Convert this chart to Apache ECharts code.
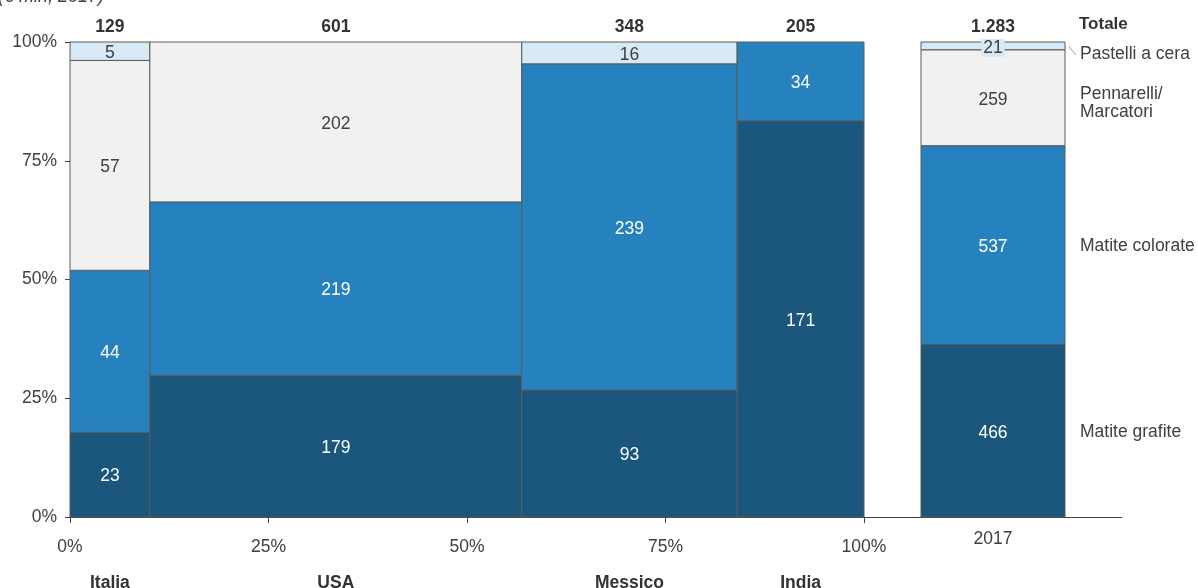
<!DOCTYPE html>
<html>
<head>
<meta charset="utf-8">
<script src="https://cdn.jsdelivr.net/npm/echarts@6/dist/echarts.min.js"></script>
<style>
  html, body { margin: 0; padding: 0; background: #ffffff; }
  #chart { width: 1198px; height: 588px; }
</style>
</head>
<body>
<div id="chart"></div>
<script>
// Mercato dei prodotti da scrittura e colorazione per paese (€ mln, 2017)
const markets = ['Italia', 'USA', 'Messico', 'India'];
const marketTotals = [129, 601, 348, 205];

const segmentNames = ['Matite grafite', 'Matite colorate', 'Pennarelli/\nMarcatori', 'Pastelli a cera'];
const grafite    = [23, 179, 93, 171];
const colorate   = [44, 219, 239, 34];
const pennarelli = [57, 202, 0, 0];
const pastelli   = [5, 0, 16, 0];

const yearLabel = '2017';
const yearValues = [466, 537, 259, 21];   // grafite, colorate, pennarelli, pastelli

const pctTicks = [0, 25, 50, 75, 100];
const totalHeader = 'Totale';
const unitNote = '(€ mln, 2017)';

// ---- styling ----
const FILL = ['#1b567d', '#2682be', '#f1f1f1', '#d8e9f6'];
const INK  = ['#ffffff', '#ffffff', '#404040', '#404040'];
const NAME_DY = [1, 1, 5, 8];            // vertical nudge of the segment names
const EDGE = '#5a5a5a';
const AXIS = '#404040';
const FONT = '"Liberation Sans", Arial, sans-serif';
const FS = 17.5;

const fmtIt = n => String(n).replace(/\B(?=(\d{3})+(?!\d))/g, '.');

// ---- marimekko geometry in data units (x: share of total market, y: share within market) ----
const series = [grafite, colorate, pennarelli, pastelli];
const grand = marketTotals.reduce((a, b) => a + b, 0);
const mekko = [];
const columns = [];
let cx = 0;
markets.forEach((m, i) => {
  const w = marketTotals[i] / grand * 100;
  const colSum = series.reduce((s, arr) => s + arr[i], 0);
  let cy = 0;
  series.forEach((arr, k) => {
    const v = arr[i];
    if (!v) return;
    const h = v / colSum * 100;
    mekko.push([cx, cx + w, cy, cy + h, v, k]);
    cy += h;
  });
  columns.push([cx, cx + w, marketTotals[i], i]);
  cx += w;
});

// ---- single stacked bar for the aggregate year ----
const yearSum = yearValues.reduce((a, b) => a + b, 0);
const yearStack = [];
let acc = 0;
yearValues.forEach((v, k) => {
  const h = v / yearSum * 100;
  yearStack.push([0, acc, acc + h, v, k]);
  acc += h;
});

function renderMekko(params, api) {
  const x0 = api.value(0), x1 = api.value(1), y0 = api.value(2), y1 = api.value(3);
  const v = api.value(4), k = api.value(5);
  const p0 = api.coord([x0, y1]);
  const p1 = api.coord([x1, y0]);
  return {
    type: 'group',
    children: [
      { type: 'rect',
        shape: { x: p0[0], y: p0[1], width: p1[0] - p0[0], height: p1[1] - p0[1] },
        style: { fill: FILL[k], stroke: EDGE, lineWidth: 1 } },
      { type: 'text',
        x: (p0[0] + p1[0]) / 2, y: (p0[1] + p1[1]) / 2 + 2,
        style: { text: String(v), fill: INK[k], font: FS + 'px ' + FONT,
                 align: 'center', verticalAlign: 'middle' } }
    ]
  };
}

function renderColumns(params, api) {
  const x0 = api.value(0), x1 = api.value(1), tot = api.value(2), i = api.value(3);
  const top = api.coord([(x0 + x1) / 2, 100]);
  const bot = api.coord([(x0 + x1) / 2, 0]);
  return {
    type: 'group',
    children: [
      { type: 'text', x: top[0], y: top[1] - 15,
        style: { text: fmtIt(tot), fill: '#333333', font: 'bold ' + FS + 'px ' + FONT,
                 align: 'center', verticalAlign: 'middle' } },
      { type: 'text', x: bot[0], y: bot[1] + 66,
        style: { text: markets[i], fill: '#333333', font: 'bold ' + FS + 'px ' + FONT,
                 align: 'center', verticalAlign: 'middle' } }
    ]
  };
}

const BAR_W = 144;
function renderYear(params, api) {
  const y0 = api.value(1), y1 = api.value(2), v = api.value(3), k = api.value(4);
  const pTop = api.coord([0, y1]);
  const pBot = api.coord([0, y0]);
  const left = pTop[0] - BAR_W / 2;
  const midY = (pTop[1] + pBot[1]) / 2;
  const children = [
    { type: 'rect',
      shape: { x: left, y: pTop[1], width: BAR_W, height: pBot[1] - pTop[1] },
      style: { fill: FILL[k], stroke: EDGE, lineWidth: 1 } }
  ];
  const thin = (pBot[1] - pTop[1]) < 16;
  children.push({
    type: 'text', x: pTop[0], y: midY + 2,
    z2: 5,
    style: { text: String(v), fill: INK[k], font: FS + 'px ' + FONT,
             align: 'center', verticalAlign: 'middle',
             backgroundColor: thin ? FILL[k] : null, padding: thin ? [0, 2] : 0 }
  });
  const lx = left + BAR_W + 15;
  if (thin) {
    children.push({ type: 'line',
      shape: { x1: left + BAR_W + 4, y1: midY + 1, x2: left + BAR_W + 11, y2: midY + 9 },
      style: { stroke: '#9a9a9a', lineWidth: 1 } });
  }
  children.push({ type: 'text', x: lx, y: midY + NAME_DY[k],
    style: { text: segmentNames[k], fill: '#404040', font: FS + 'px ' + FONT,
             align: 'left', verticalAlign: 'middle', lineHeight: 18 } });
  if (k === yearValues.length - 1) {
    children.push({ type: 'text', x: pTop[0], y: pTop[1] - 15,
      style: { text: fmtIt(yearSum), fill: '#333333', font: 'bold ' + FS + 'px ' + FONT,
               align: 'center', verticalAlign: 'middle' } });
    children.push({ type: 'text', x: lx - 1, y: pTop[1] - 18,
      style: { text: totalHeader, fill: '#333333', font: 'bold 17px ' + FONT,
               align: 'left', verticalAlign: 'middle' } });
  }
  return { type: 'group', children };
}

const chart = echarts.init(document.getElementById('chart'), null, { renderer: 'canvas' });
chart.setOption({
  animation: false,
  backgroundColor: '#ffffff',
  graphic: [
    { type: 'text', right: 1094, top: -12,
      style: { text: unitNote, fill: '#404040', font: 'italic 18px ' + FONT } }
  ],
  grid: [
    { left: 70, right: 334, top: 42, bottom: 71 },
    { left: 864, right: 76, top: 42, bottom: 71 }
  ],
  xAxis: [
    { type: 'value', gridIndex: 0, min: 0, max: 100, interval: 25,
      axisLine: { show: true, lineStyle: { color: AXIS, width: 1 } },
      axisTick: { show: true, length: 6, lineStyle: { color: AXIS } },
      splitLine: { show: false },
      axisLabel: { margin: 21, color: '#404040', fontSize: FS, fontFamily: FONT,
                   formatter: v => pctTicks.includes(v) ? v + '%' : '' } },
    { type: 'category', gridIndex: 1, data: [yearLabel],
      axisLine: { show: true, lineStyle: { color: AXIS, width: 1 } },
      axisTick: { show: false },
      axisLabel: { margin: 13, color: '#404040', fontSize: FS, fontFamily: FONT } }
  ],
  yAxis: [
    { type: 'value', gridIndex: 0, min: 0, max: 100, interval: 25,
      axisLine: { show: true, lineStyle: { color: AXIS, width: 1 } },
      axisTick: { show: true, length: 5, lineStyle: { color: AXIS } },
      splitLine: { show: false },
      axisLabel: { margin: 13, color: '#404040', fontSize: FS, fontFamily: FONT,
                   formatter: v => v + '%' } },
    { type: 'value', gridIndex: 1, min: 0, max: 100, show: false }
  ],
  series: [
    { type: 'custom', xAxisIndex: 0, yAxisIndex: 0, renderItem: renderMekko,
      data: mekko, clip: false, z: 2 },
    { type: 'custom', xAxisIndex: 0, yAxisIndex: 0, renderItem: renderColumns,
      data: columns, clip: false, z: 3 },
    { type: 'custom', xAxisIndex: 1, yAxisIndex: 1, renderItem: renderYear,
      data: yearStack, clip: false, z: 2 }
  ]
});
</script>
</body>
</html>
